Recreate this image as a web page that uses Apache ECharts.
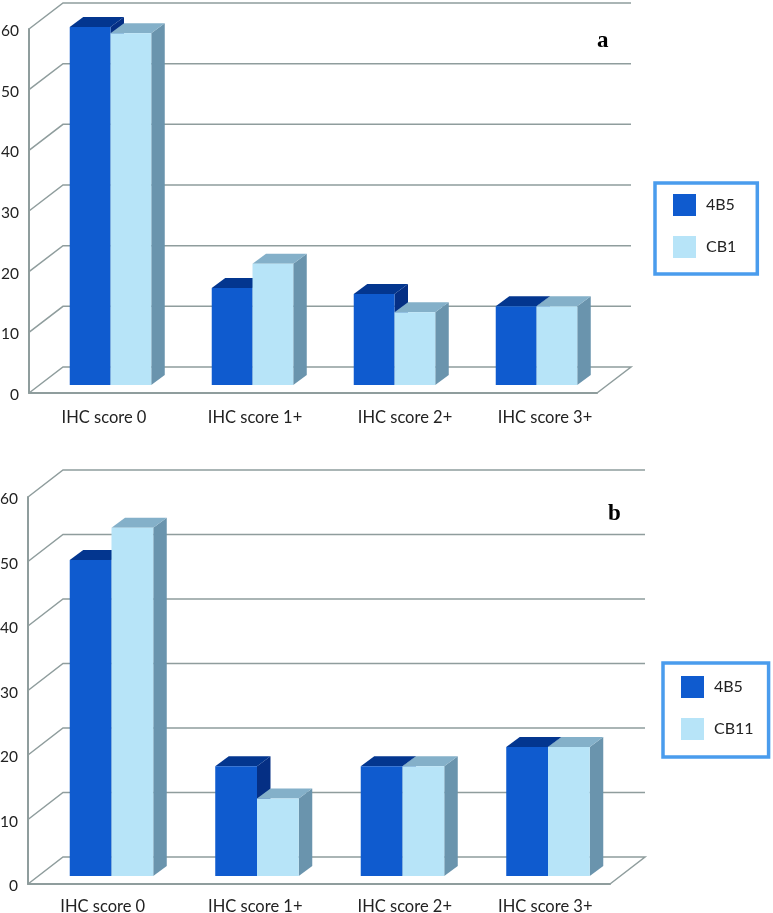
<!DOCTYPE html>
<html>
<head>
<meta charset="utf-8">
<style>html,body{margin:0;padding:0;background:#fff}#c{width:773px;height:913px}</style>
<script src="https://cdn.jsdelivr.net/npm/echarts@6/dist/echarts.min.js"></script>
</head>
<body>
<div id="c"></div>
<script>
const categories = ['IHC score 0', 'IHC score 1+', 'IHC score 2+', 'IHC score 3+'];
const yTicks = [0, 10, 20, 30, 40, 50, 60];
const a4B5 = [59, 16, 15, 13];
const aCB1 = [58, 20, 12, 13];
const b4B5 = [49, 17, 17, 20];
const bCB11 = [54, 12, 17, 20];

const FONT = 'Lato, "Open Sans", sans-serif';
const LINE = '#8f9d9d';
const BLUE = {front: '#0f5bcf', top: '#03368f', side: '#052f84'};
const PALE = {front: '#b7e4f8', top: '#84b0c9', side: '#6a94ad'};

const chart = echarts.init(document.getElementById('c'));

function gridSeries(idx, dx, dy) {
  return {
    type: 'custom', name: 'wall' + idx, xAxisIndex: idx, yAxisIndex: idx, silent: true, z: 1,
    data: yTicks.map(v => [0, v]),
    encode: {x: 0, y: 1},
    renderItem(params, api) {
      const cs = params.coordSys;
      const y = api.coord([0, api.value(1)])[1];
      const left = cs.x, right = cs.x + cs.width;
      const points = [[left, y], [left + dx, y + dy], [right + dx, y + dy]];
      if (api.value(1) === 0) points.push([right, y]);
      return {type: 'polyline', shape: {points}, style: {fill: 'none', stroke: LINE, lineWidth: 1.5}};
    }
  };
}

function barSeries(idx, name, values, side, col, lift, shift, z) {
  return {
    type: 'custom', name, xAxisIndex: idx, yAxisIndex: idx, z,
    itemStyle: {color: col.front},
    data: values.map((v, i) => [i, v]),
    encode: {x: 0, y: 1},
    renderItem(params, api) {
      const p = api.coord([api.value(0), api.value(1)]);
      const base = api.coord([api.value(0), 0]);
      const w = api.size([1, 0])[0] * 0.287;
      const x0 = p[0] + shift + (side < 0 ? -w : 0);
      const x1 = x0 + w;
      const yT = p[1] - lift, yB = base[1] - lift;
      const dX = 13.5, dY = -10;
      return {type: 'group', children: [
        {type: 'polygon', shape: {points: [[x1, yT], [x1 + dX, yT + dY], [x1 + dX, yB + dY], [x1, yB]]}, style: {fill: col.side}},
        {type: 'polygon', shape: {points: [[x0, yT], [x0 + dX, yT + dY], [x1 + dX, yT + dY], [x1, yT]]}, style: {fill: col.top}},
        {type: 'rect', shape: {x: x0, y: yT, width: w, height: yB - yT}, style: {fill: col.front}}
      ]};
    }
  };
}

function xAxis(idx, pads, margin) {
  return {
    type: 'category', gridIndex: idx, data: categories,
    axisLine: {show: true, lineStyle: {color: LINE, width: 2}},
    axisTick: {show: false}, splitLine: {show: false},
    axisLabel: {
      margin, interval: 0, color: '#222',
      formatter: (v, i) => '{s' + i + '|' + v + '}',
      rich: Object.fromEntries(pads.map((p, i) => ['s' + i, {padding: [0, 0, 0, p], fontFamily: FONT, fontSize: 16.5, color: '#222'}]))
    }
  };
}

function yAxis(idx) {
  return {
    type: 'value', gridIndex: idx, min: 0, max: 60, interval: 10,
    axisLine: {show: true, lineStyle: {color: LINE, width: 2}},
    axisTick: {show: false}, splitLine: {show: false},
    axisLabel: {
      margin: 10, color: '#222',
      formatter: '{v|{value}}',
      rich: {v: {fontFamily: FONT, fontSize: 15.5, color: '#222', padding: [4, 0, 0, 0]}}
    }
  };
}

function legend(names, left, top, padding) {
  return {
    data: names, orient: 'vertical', left, top, icon: 'rect',
    itemWidth: 23, itemHeight: 22, itemGap: 20,
    padding,
    borderColor: '#4a9ced', borderWidth: 3.5, backgroundColor: '#fff',
    selectedMode: false,
    textStyle: {fontFamily: FONT, fontSize: 16, color: '#222', padding: [0, 0, 6, 5]}
  };
}

chart.setOption({
  animation: false,
  backgroundColor: '#fff',
  title: [
    {text: 'a', left: 592, top: 25, textStyle: {fontFamily: '"Liberation Serif"', fontWeight: 'bold', fontSize: 23, color: '#000'}},
    {text: 'b', left: 603, top: 498, textStyle: {fontFamily: '"Liberation Serif"', fontWeight: 'bold', fontSize: 23, color: '#000'}}
  ],
  grid: [
    {left: 29, top: 29, width: 568, height: 364, outerBoundsMode: 'none'},
    {left: 28, top: 497, width: 582, height: 387, outerBoundsMode: 'none'}
  ],
  xAxis: [xAxis(0, [8, 26, 42, 38], 16), xAxis(1, [4, 18, 26, 16], 14)],
  yAxis: [yAxis(0), yAxis(1)],
  legend: [legend(['4B5', 'CB1'], 655, 183, [11, 21, 16, 18]), legend(['4B5', 'CB11'], 663, 663, [13, 15, 17, 18])],
  series: [
    gridSeries(0, 34, -26),
    gridSeries(1, 35, -27),
    barSeries(0, '4B5', a4B5, -1, BLUE, 8, 10.5, 3),
    barSeries(0, 'CB1', aCB1, 1, PALE, 8, 10.5, 4),
    barSeries(1, '4B5', b4B5, -1, BLUE, 8, 10.75, 3),
    barSeries(1, 'CB11', bCB11, 1, PALE, 8, 10.75, 4)
  ]
});
</script>
</body>
</html>
